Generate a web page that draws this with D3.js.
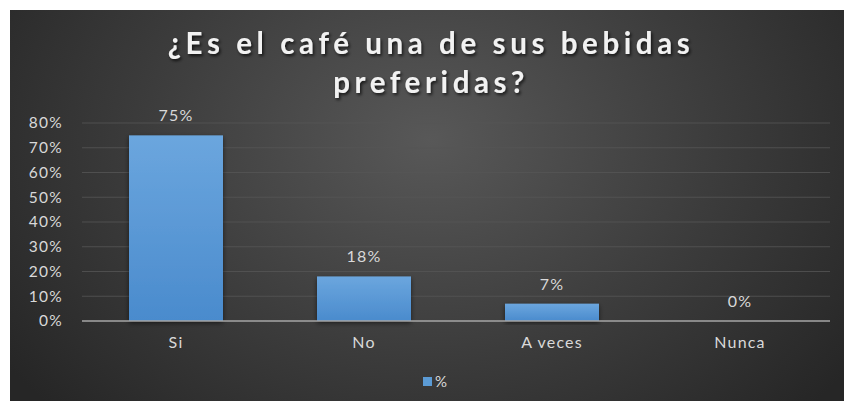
<!DOCTYPE html>
<html>
<head>
<meta charset="utf-8">
<script src="https://cdn.jsdelivr.net/npm/d3@7"></script>
<style>
  html, body { margin: 0; padding: 0; background: #ffffff; }
  svg { display: block; }
</style>
</head>
<body>
<svg id="chart" width="845" height="403"></svg>
<script>
// Survey answers and their shares (percent)
const categories = ["Si", "No", "A veces", "Nunca"];
const values = [75, 18, 7, 0];
const yTicks = [0, 10, 20, 30, 40, 50, 60, 70, 80];
const titleLines = ["¿Es el café una de sus bebidas", "preferidas?"];
const seriesName = "%";

const svg = d3.select("#chart");
const frame = { x: 10, y: 10, w: 834, h: 391 };
const plot = { left: 82, right: 834, top: 123, bottom: 321 };
const FONT = "Lato, 'Open Sans', sans-serif";
const LABEL = "#d9d9d9";

const defs = svg.append("defs");

// Dark radial background, lighter near the top middle
const bg = defs.append("radialGradient")
  .attr("id", "bgGrad")
  .attr("gradientUnits", "userSpaceOnUse")
  .attr("cx", 430).attr("cy", 140).attr("r", 520)
  .attr("gradientTransform", "translate(430,140) scale(1,0.75) translate(-430,-140)");
bg.append("stop").attr("offset", "0%").attr("stop-color", "#585858");
bg.append("stop").attr("offset", "55%").attr("stop-color", "#3c3c3c");
bg.append("stop").attr("offset", "100%").attr("stop-color", "#262626");

const barGrad = defs.append("linearGradient")
  .attr("id", "barGrad").attr("x1", 0).attr("y1", 0).attr("x2", 0).attr("y2", 1);
barGrad.append("stop").attr("offset", "0%").attr("stop-color", "#6ba6de");
barGrad.append("stop").attr("offset", "100%").attr("stop-color", "#4a8bcd");

const shadow = defs.append("filter").attr("id", "titleShadow")
  .attr("x", "-10%").attr("y", "-30%").attr("width", "120%").attr("height", "160%");
shadow.append("feDropShadow").attr("dx", 1.5).attr("dy", 2).attr("stdDeviation", 1.5)
  .attr("flood-color", "#000").attr("flood-opacity", 0.7);

const barShadow = defs.append("filter").attr("id", "barShadow")
  .attr("x", "-20%").attr("y", "-10%").attr("width", "140%").attr("height", "130%");
barShadow.append("feDropShadow").attr("dx", 0).attr("dy", 2).attr("stdDeviation", 2.5)
  .attr("flood-color", "#000").attr("flood-opacity", 0.55);

svg.append("rect")
  .attr("x", frame.x).attr("y", frame.y)
  .attr("width", frame.w).attr("height", frame.h)
  .attr("fill", "url(#bgGrad)");

// Title
const title = svg.append("text")
  .attr("text-anchor", "middle")
  .attr("font-family", FONT)
  .attr("font-weight", "bold")
  .attr("font-size", 29.5)
  .attr("letter-spacing", 4.6)
  .attr("fill", "#f2f2f2")
  .attr("filter", "url(#titleShadow)");
titleLines.forEach((line, i) => {
  title.append("tspan").attr("x", 431).attr("y", 54 + i * 39).text(line);
});

// Scales
const x = d3.scaleBand().domain(categories).range([plot.left, plot.right]).paddingInner(0.5).paddingOuter(0.25);
const y = d3.scaleLinear().domain([0, 80]).range([plot.bottom, plot.top]);

// Gridlines
svg.append("g").selectAll("line")
  .data(yTicks.filter(d => d > 0))
  .join("line")
  .attr("x1", plot.left).attr("x2", 830)
  .attr("y1", d => y(d)).attr("y2", d => y(d))
  .attr("stroke", "#555555").attr("stroke-width", 0.8);

// Y axis labels
const yAxis = d3.axisLeft(y).tickValues(yTicks).tickFormat(d => d + "%").tickSize(0).tickPadding(0);
svg.append("g")
  .attr("transform", `translate(63,0)`)
  .call(yAxis)
  .call(g => g.select(".domain").remove())
  .call(g => g.selectAll("text")
    .attr("fill", LABEL)
    .attr("font-family", FONT)
    .attr("font-size", 15.5)
    .attr("letter-spacing", 1.3));

// Bars
svg.append("g").selectAll("rect")
  .data(values.map((v, i) => ({ c: categories[i], v })))
  .join("rect")
  .attr("x", d => x(d.c))
  .attr("y", d => y(d.v))
  .attr("width", x.bandwidth())
  .attr("height", d => y(0) - y(d.v))
  .attr("fill", "url(#barGrad)")
  .attr("filter", "url(#barShadow)");

// Baseline / category axis
const xAxis = d3.axisBottom(x).tickSize(0).tickPadding(16);
svg.append("g")
  .attr("transform", `translate(0,${plot.bottom})`)
  .call(xAxis)
  .call(g => g.select(".domain").attr("d", `M${plot.left},0H830`).attr("stroke", "#a6a6a6").attr("stroke-width", 1.4))
  .call(g => g.selectAll("text")
    .attr("fill", LABEL)
    .attr("font-family", FONT)
    .attr("font-size", 16)
    .attr("letter-spacing", 1.2));

// Value labels
svg.append("g").selectAll("text")
  .data(values.map((v, i) => ({ c: categories[i], v })))
  .join("text")
  .attr("x", d => x(d.c) + x.bandwidth() / 2)
  .attr("y", d => y(d.v) - 14)
  .attr("text-anchor", "middle")
  .attr("fill", LABEL)
  .attr("font-family", FONT)
  .attr("font-size", 16)
  .attr("letter-spacing", 1.2)
  .text(d => d.v + "%");

// Legend
const legend = svg.append("g").attr("transform", "translate(423,377)");
legend.append("rect").attr("width", 9).attr("height", 9).attr("fill", "#5b9bd5");
legend.append("text")
  .attr("x", 12).attr("y", 10)
  .attr("fill", LABEL)
  .attr("font-family", FONT)
  .attr("font-size", 15)
  .text(seriesName);
</script>
</body>
</html>
